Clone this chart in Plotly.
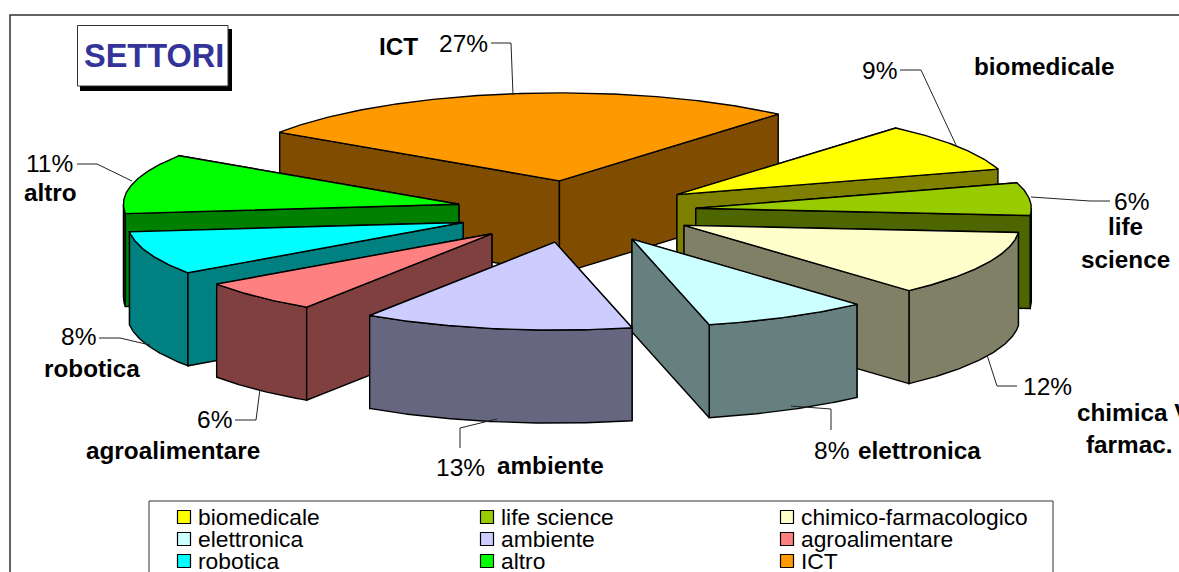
import numpy as np
import plotly.graph_objects as go

# --- data ---
sectors = ["biomedicale", "life science", "chimico-farmacologico", "elettronica",
           "ambiente", "agroalimentare", "robotica", "altro", "ICT"]
values = [9, 6, 12, 8, 13, 6, 8, 11, 27]
top_colors = ["#FFFF00", "#99CC00", "#FFFFCC", "#CCFFFF", "#CCCCFF",
              "#FF8080", "#00FFFF", "#00FF00", "#FF9900"]
side_colors = ["#808000", "#4D6600", "#808066", "#668080", "#666680",
               "#804040", "#008080", "#008000", "#804D00"]
draw_order = [8, 0, 1, 2, 7, 6, 5, 3, 4]

# --- pie geometry (pixel scale) ---
FIRST_ANGLE = 40.7
CX, CY = 576.0, 211.6
RX, RY = 335.5, 88.0
EXPLODE_X, EXPLODE_Y = 120.5, 31.0
DEPTH = 93.0
FONT = "Liberation Sans"
W, H = 1179, 572

fig = go.Figure()


def poly(xs, ys, color):
    fig.add_trace(go.Scatter(x=xs, y=ys, mode="lines", fill="toself", fillcolor=color,
                             line=dict(color="black", width=1.4), hoverinfo="skip",
                             showlegend=False))


def wedge(i, start, end):
    mid = np.radians((start + end) / 2)
    ax = CX + EXPLODE_X * np.sin(mid)
    ay = CY - EXPLODE_Y * np.cos(mid)
    pt = lambda a: (ax + RX * np.sin(np.radians(a)), ay - RY * np.cos(np.radians(a)))

    def radial(a):
        x, y = pt(a)
        poly([ax, x, x, ax, ax], [ay, y, y + DEPTH, ay + DEPTH, ay], side_colors[i])

    s_front = np.sin(np.radians(start)) < 0
    e_front = np.sin(np.radians(end)) > 0
    if not s_front:
        radial(start)
    if not e_front:
        radial(end)
    # visible (front) part of the outer wall
    for k in (0, 360):
        a0, a1 = max(start, 90 + k), min(end, 270 + k)
        if a1 > a0:
            arc = np.linspace(a0, a1, int((a1 - a0) * 2) + 2)
            xs = ax + RX * np.sin(np.radians(arc))
            ys = ay - RY * np.cos(np.radians(arc))
            poly(list(xs) + list(xs[::-1]) + [xs[0]],
                 list(ys) + list(ys[::-1] + DEPTH) + [ys[0]], side_colors[i])
    if s_front:
        radial(start)
    if e_front:
        radial(end)
    arc = np.linspace(start, end, int((end - start) * 2) + 2)
    xs = ax + RX * np.sin(np.radians(arc))
    ys = ay - RY * np.cos(np.radians(arc))
    poly([ax] + list(xs) + [ax], [ay] + list(ys) + [ay], top_colors[i])


cum = FIRST_ANGLE + np.concatenate([[0], np.cumsum(values)]) * 3.6
for i in draw_order:
    wedge(i, cum[i], cum[i + 1])

# --- leader lines ---
leaders = {
    "biomedicale": [(900, 70), (921, 70), (956, 145)],
    "life science": [(1110, 201), (1090, 201), (1031, 197)],
    "chimico-farmacologico": [(1017, 386), (997, 386), (987, 355)],
    "elettronica": [(831, 430), (831, 409), (791, 406)],
    "ambiente": [(460, 448), (460, 428), (497, 419)],
    "agroalimentare": [(235, 420), (256, 420), (260, 389)],
    "robotica": [(99, 338), (120, 338), (150, 345)],
    "altro": [(77, 164), (97, 164), (132, 181)],
    "ICT": [(491, 43), (511, 43), (513, 95)],
}
for pts in leaders.values():
    fig.add_trace(go.Scatter(x=[p[0] for p in pts], y=[p[1] for p in pts], mode="lines",
                             line=dict(color="#222222", width=1), hoverinfo="skip",
                             showlegend=False))

# --- legend ---
legend_cols = [184, 487, 787]
legend_rows = [517, 539, 561]
annotations = []
PCT_SIZE = 24.5
BOLD_SIZE = 24.3


def text(x, y, s, size=PCT_SIZE, bold=False, anchor="left", color="black"):
    annotations.append(dict(x=x, y=y, xref="x", yref="y", text=f"<b>{s}</b>" if bold else s,
                            showarrow=False, xanchor=anchor, yanchor="middle",
                            font=dict(family=FONT, size=size, color=color),
                            xshift=0, yshift=0, borderpad=0, borderwidth=0))


for n, name in enumerate(sectors):
    r, c = n // 3, n % 3
    fig.add_trace(go.Scatter(x=[legend_cols[c]], y=[legend_rows[r]], mode="markers",
                             marker=dict(symbol="square", size=13, color=top_colors[n],
                                         line=dict(color="black", width=1.2)),
                             hoverinfo="skip", showlegend=False))
    text(legend_cols[c] + 14, legend_rows[r], name, size=22.8)

# --- labels ---
pct = {s: f"{v}%" for s, v in zip(sectors, values)}
text(439, 43, pct["ICT"])
text(379, 46, "ICT", BOLD_SIZE, True)
text(862, 70, pct["biomedicale"])
text(974, 66, "biomedicale", BOLD_SIZE, True)
text(1114, 201, pct["life science"])
text(1125, 226, "life", BOLD_SIZE, True, "center")
text(1125, 259, "science", BOLD_SIZE, True, "center")
text(1023, 386, pct["chimico-farmacologico"])
text(1077, 412, "chimica V", BOLD_SIZE, True)
text(1129, 444, "farmac.", BOLD_SIZE, True, "center")
text(814, 450, pct["elettronica"])
text(858, 450, "elettronica", BOLD_SIZE, True)
text(436, 467, pct["ambiente"])
text(497, 465, "ambiente", BOLD_SIZE, True)
text(197, 419, pct["agroalimentare"])
text(86, 450, "agroalimentare", BOLD_SIZE, True)
text(61, 336, pct["robotica"])
text(44, 368, "robotica", BOLD_SIZE, True)
text(26, 163, pct["altro"])
text(24, 192, "altro", BOLD_SIZE, True)
text(153.5, 56, "SETTORI", 32.5, True, "center", "#333399")

shapes = [
    dict(type="rect", xref="x", yref="y", x0=10, y0=15, x1=W + 20, y1=H + 20,
         line=dict(color="#333333", width=1.5), fillcolor="white", layer="below"),
    dict(type="rect", xref="x", yref="y", x0=80, y0=29, x1=232, y1=91,
         line=dict(width=0), fillcolor="black", layer="below"),
    dict(type="rect", xref="x", yref="y", x0=77.5, y0=25.5, x1=228, y1=86,
         line=dict(color="#333333", width=1), fillcolor="white", layer="below"),
    dict(type="rect", xref="x", yref="y", x0=149, y0=501, x1=1053, y1=H + 20,
         line=dict(color="#333333", width=1), fillcolor="white", layer="below"),
]

fig.update_layout(
    width=W, height=H, margin=dict(l=0, r=0, t=0, b=0),
    paper_bgcolor="white", plot_bgcolor="white", showlegend=False,
    xaxis=dict(range=[0, W], visible=False, fixedrange=True),
    yaxis=dict(range=[H, 0], visible=False, fixedrange=True),
    shapes=shapes, annotations=annotations,
)
fig.write_html("out.html", config=dict(displayModeBar=False),
               post_script="document.body.style.margin='0';document.body.style.overflow='hidden';")
